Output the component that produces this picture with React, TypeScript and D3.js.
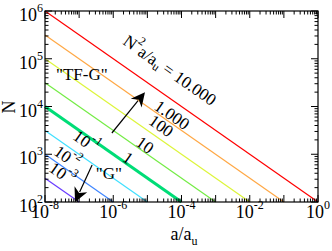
import * as d3 from "d3";

const levels = ["10.000", "1.000", "100", "10", "1", "-1", "-2", "-3"];
const lineColors = ["#ff0000", "#ffa845", "#ddf53a", "#74ec45", "#00dd77", "#3fe0ff", "#3f86ff", "#6a3cff"];
const lineWidths = [1.2, 1.2, 1.2, 1.2, 3, 1.2, 1.2, 1.2];
// each line: N at a = 1e-8, and a where N = 100
const startN = [1e6, 3.16e5, 1e5, 3.16e4, 1e4, 3.16e3, 1e3, 3.16e2];
const endA = [1, 1e-1, 1e-2, 1e-3, 1e-4, 1e-5, 1e-6, 1e-7];
// label centres (log10 a, log10 N)
const labelPos: [number, number][] = [
  [-4.34, 4.76], [-4.28, 3.82], [-4.6, 3.59], [-5.07, 3.19],
  [-5.57, 2.92], [-6.8, 3.26], [-7.36, 2.94], [-7.5, 2.59],
];
const xTicks = [-8, -6, -4, -2, 0];
const yTicks = [2, 3, 4, 5, 6];
const arrows: [number, number, number, number][] = [
  [-6.04, 3.445, -5.07, 4.3],
  [-6.62, 2.775, -7.12, 2.0],
];
const notes: { text: string; la: number; lN: number }[] = [
  { text: "\"TF-G\"", la: -6.92, lN: 4.66 },
  { text: "\"G\"", la: -6.13, lN: 2.6 },
];

const FONT = "'Liberation Serif', 'Noto Serif', 'DejaVu Serif', Times, 'Liberation Sans', Arial, serif";

export default function App() {
  const left = 45, right = 318, top = 11, bottom = 202;
  const x = d3.scaleLog().domain([1e-8, 1]).range([left, right]);
  const y = d3.scaleLog().domain([1e2, 1e6]).range([bottom, top]);

  const angle = (Math.atan2(y(1e2) - y(1e6), x(1) - x(1e-8)) * 180) / Math.PI;

  const minorX: number[] = [];
  for (let e = -8; e < 0; e++) for (let m = 1; m < 10; m++) minorX.push(m * Math.pow(10, e));
  minorX.push(1);
  const minorY: number[] = [];
  for (let e = 2; e < 6; e++) for (let m = 1; m < 10; m++) minorY.push(m * Math.pow(10, e));
  minorY.push(1e6);

  const line = d3.line<[number, number]>().x(d => x(d[0])).y(d => y(d[1]));

  return (
    <svg width={332} height={251} style={{ position: "absolute", left: 0, top: 0, background: "#fff", fontFamily: FONT }}>
      {levels.map((_, i) => (
        <path key={i} d={line([[1e-8, startN[i]], [endA[i], 1e2]]) || ""} stroke={lineColors[i]} strokeWidth={lineWidths[i]} fill="none" />
      ))}

      {/* ticks */}
      {minorX.map((v, i) => {
        const major = Math.abs(Math.log10(v) - Math.round(Math.log10(v))) < 1e-9;
        const len = major ? 7 : 3.5;
        return (
          <g key={"x" + i} stroke="#000" strokeWidth={1}>
            <line x1={x(v)} x2={x(v)} y1={bottom} y2={bottom - len} />
            <line x1={x(v)} x2={x(v)} y1={top} y2={top + len} />
          </g>
        );
      })}
      {minorY.map((v, i) => {
        const major = Math.abs(Math.log10(v) - Math.round(Math.log10(v))) < 1e-9;
        const len = major ? 7 : 3.5;
        return (
          <g key={"y" + i} stroke="#000" strokeWidth={1}>
            <line x1={left} x2={left + len} y1={y(v)} y2={y(v)} />
            <line x1={right} x2={right - len} y1={y(v)} y2={y(v)} />
          </g>
        );
      })}
      <rect x={left} y={top} width={right - left} height={bottom - top} fill="none" stroke="#000" strokeWidth={1.2} />

      {/* tick labels */}
      {xTicks.map(e => (
        <text key={"xl" + e} x={x(Math.pow(10, e))} y={218} textAnchor="middle" fontSize={18}>
          10<tspan fontSize={12} dy={-9}>{e}</tspan>
        </text>
      ))}
      {yTicks.map(e => (
        <text key={"yl" + e} x={43} y={y(Math.pow(10, e)) + 10} textAnchor="end" fontSize={18}>
          10<tspan fontSize={12} dy={-9}>{e}</tspan>
        </text>
      ))}

      {/* axis titles */}
      <text x={184} y={240} textAnchor="middle" fontSize={18}>
        a/a<tspan fontSize={12} dy={5}>u</tspan>
      </text>
      <text transform={`translate(15,107) rotate(-90)`} textAnchor="middle" fontSize={18}>N</text>

      {/* line labels */}
      {levels.map((lv, i) => {
        const [la, lN] = labelPos[i];
        const px = x(Math.pow(10, la));
        const py = y(Math.pow(10, lN));
        let content;
        if (i === 0) {
          content = (
            <>
              N<tspan fontSize={12} dy={-8}>2</tspan>
              <tspan dy={8}>a/a</tspan>
              <tspan fontSize={12} dy={5}>u</tspan>
              <tspan dy={-5}>{" = " + lv}</tspan>
            </>
          );
        } else if (lv.startsWith("-")) {
          content = (
            <>
              10<tspan fontSize={12} dy={-8}>{lv}</tspan>
            </>
          );
        } else content = lv;
        return (
          <text key={"lab" + i} transform={`translate(${px},${py}) rotate(${angle})`} textAnchor="middle" dominantBaseline="central" fontSize={17}>
            {content}
          </text>
        );
      })}

      {notes.map((n, i) => (
        <text key={"n" + i} x={x(Math.pow(10, n.la))} y={y(Math.pow(10, n.lN))} textAnchor="middle" dominantBaseline="central" fontSize={17}>
          {n.text}
        </text>
      ))}

      {/* arrows */}
      {arrows.map((a, i) => {
        const x1 = x(Math.pow(10, a[0])), y1 = y(Math.pow(10, a[1]));
        const x2 = x(Math.pow(10, a[2])), y2 = y(Math.pow(10, a[3]));
        const th = Math.atan2(y2 - y1, x2 - x1);
        const hl = 14, hw = 7;
        const bx = x2 - hl * Math.cos(th), by = y2 - hl * Math.sin(th);
        const nx = -Math.sin(th), ny = Math.cos(th);
        const pts = [
          [x2, y2],
          [bx + hw * nx, by + hw * ny],
          [x2 - 0.7 * hl * Math.cos(th), y2 - 0.7 * hl * Math.sin(th)],
          [bx - hw * nx, by - hw * ny],
        ];
        return (
          <g key={"a" + i}>
            <line x1={x1} y1={y1} x2={bx + 3 * Math.cos(th)} y2={by + 3 * Math.sin(th)} stroke="#000" strokeWidth={1.2} />
            <polygon points={pts.map(p => p.join(",")).join(" ")} fill="#000" />
          </g>
        );
      })}
    </svg>
  );
}
